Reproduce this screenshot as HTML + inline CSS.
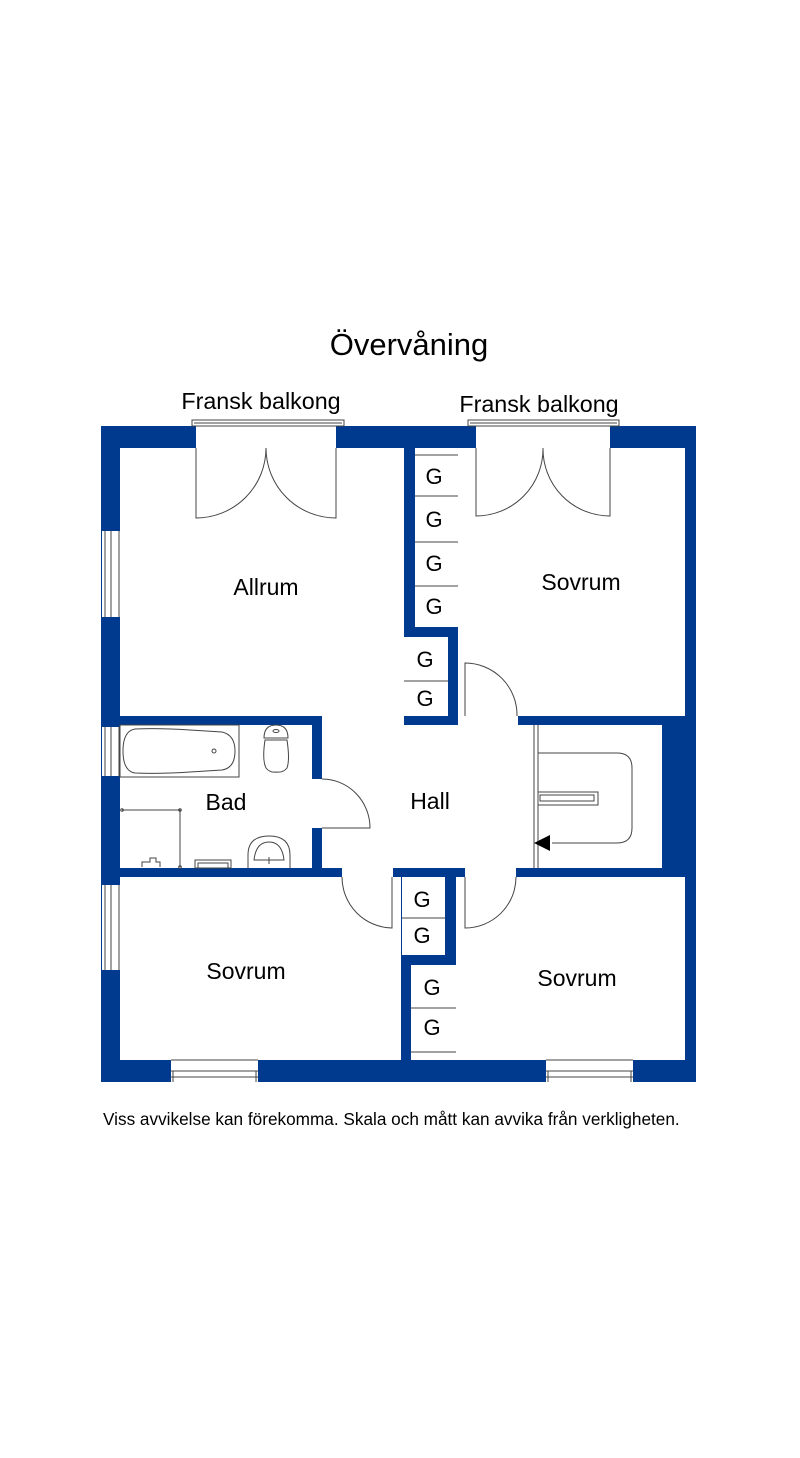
<!DOCTYPE html>
<html><head><meta charset="utf-8"><style>
html,body{margin:0;padding:0;background:#fff;}
svg{display:block;}
text{font-family:"Liberation Sans",Arial,sans-serif;fill:#000;}
</style></head><body>
<svg width="800" height="1458" viewBox="0 0 800 1458" xmlns="http://www.w3.org/2000/svg">
<text x="409" y="355" font-size="31" text-anchor="middle">Övervåning</text>
<text x="261" y="409" font-size="23.3" text-anchor="middle">Fransk balkong</text>
<text x="539" y="412" font-size="23.3" text-anchor="middle">Fransk balkong</text>

<rect x="101" y="426" width="595" height="656" fill="#003a8f"/>
<g fill="#fff">
<rect x="120" y="448" width="284" height="268"/>
<rect x="322" y="716" width="82" height="10"/>
<rect x="322" y="725" width="212" height="143"/>
<rect x="458" y="716" width="60" height="10"/>
<rect x="458" y="448" width="227" height="268"/>
<rect x="415" y="448" width="43" height="179"/>
<rect x="404" y="637" width="44" height="79"/>
<rect x="534" y="725" width="128" height="143"/>
<rect x="120" y="725" width="192" height="143"/>
<rect x="312" y="779" width="10" height="49"/>
<rect x="342" y="868" width="51" height="10"/>
<rect x="465" y="868" width="51" height="10"/>
<rect x="120" y="877" width="281" height="183"/>
<rect x="402" y="877" width="43" height="78"/>
<rect x="411" y="965" width="45" height="95"/>
<rect x="456" y="877" width="229" height="183"/>
<rect x="196" y="426" width="140" height="22"/>
<rect x="476" y="426" width="134" height="22"/>
<rect x="102" y="531" width="18" height="86"/>
<rect x="102" y="727" width="18" height="49"/>
<rect x="102" y="885" width="18" height="85"/>
<rect x="171" y="1060" width="87" height="22"/>
<rect x="546" y="1060" width="87" height="22"/>
</g>
<g fill="none" stroke="#444" stroke-width="1">
<rect x="192" y="420" width="152" height="6"/>
<line x1="194" y1="423" x2="342" y2="423"/>
<rect x="468" y="420" width="151" height="6"/>
<line x1="470" y1="423" x2="617" y2="423"/>
<g><line x1="105" y1="531" x2="105" y2="617"/><line x1="111" y1="531" x2="111" y2="617"/><line x1="119" y1="531" x2="119" y2="617"/></g>
<g><line x1="105" y1="727" x2="105" y2="776"/><line x1="111" y1="727" x2="111" y2="776"/><line x1="119" y1="727" x2="119" y2="776"/></g>
<g><line x1="105" y1="885" x2="105" y2="970"/><line x1="111" y1="885" x2="111" y2="970"/><line x1="119" y1="885" x2="119" y2="970"/></g>
<g><line x1="171" y1="1071" x2="258" y2="1071"/><line x1="171" y1="1077" x2="258" y2="1077"/><line x1="171" y1="1060" x2="258" y2="1060"/><line x1="173" y1="1071" x2="173" y2="1082"/><line x1="256" y1="1071" x2="256" y2="1082"/></g>
<g><line x1="546" y1="1071" x2="633" y2="1071"/><line x1="546" y1="1077" x2="633" y2="1077"/><line x1="546" y1="1060" x2="633" y2="1060"/><line x1="548" y1="1071" x2="548" y2="1082"/><line x1="631" y1="1071" x2="631" y2="1082"/></g>
<path d="M196 448 V518 A70 70 0 0 0 266 448 A70 70 0 0 0 336 518 V448"/>
<path d="M476 448 V516 A67 67 0 0 0 543 448 A67 67 0 0 0 610 516 V448"/>
<line x1="415" y1="455" x2="458" y2="455"/>
<line x1="415" y1="496" x2="458" y2="496"/>
<line x1="415" y1="542" x2="458" y2="542"/>
<line x1="415" y1="586" x2="458" y2="586"/>
<line x1="404" y1="681" x2="448" y2="681"/>
<path d="M465 716 V663 A52 52 0 0 1 517 716"/>
<path d="M322 779 A48 49 0 0 1 370 828 H322"/>
<path d="M342 877 A51 51 0 0 0 392 928 V877"/>
<path d="M465 877 V928 A51 51 0 0 0 516 877"/>
<line x1="402" y1="918" x2="445" y2="918"/>
<line x1="411" y1="1008" x2="456" y2="1008"/>
<line x1="411" y1="1052" x2="456" y2="1052"/>
<line x1="534" y1="725" x2="534" y2="868"/>
<line x1="538" y1="725" x2="538" y2="868"/>
<path d="M538 753 H617 Q632 753 632 768 V828 Q632 843 617 843 H552"/>
<rect x="538" y="792" width="60" height="13"/>
<rect x="540" y="795" width="54" height="6"/>
<rect x="120" y="725" width="119" height="52"/>
<path d="M135 729 Q160 728 190 730 L222 732 Q235 735 235 751 Q235 768 222 770 L190 772 Q160 774 135 773 Q123 771 123 751 Q123 731 135 729 Z"/>
<circle cx="214" cy="751" r="2"/>
<path d="M264 738 Q264 725 276 725 Q288 725 288 738 Z"/>
<path d="M265 740 Q262 760 266 768 Q270 773 276 772 Q283 773 287 768 Q290 760 287 740 Z"/>
<ellipse cx="276" cy="731" rx="3" ry="1.5"/>
<path d="M122 810 H180 V867"/>
<circle cx="122" cy="810" r="1.3"/><circle cx="180" cy="810" r="1.3"/><circle cx="180" cy="867" r="1.3"/>
<path d="M248 868 V855 Q248 836 269 836 Q290 836 290 855 V868"/>
<path d="M254 860 Q256 842 269 842 Q282 842 284 860 Z"/>
<line x1="269" y1="857" x2="269" y2="864"/>
<rect x="195" y="860" width="36" height="8"/>
<rect x="198" y="863" width="30" height="5"/>
<path d="M142 867 V862 H150 V858 H156 V862 H160 V867"/>
</g>
<polygon points="534,843 550,835 550,851" fill="#000"/>

<g font-size="23" text-anchor="middle">
<text x="266" y="595">Allrum</text>
<text x="581" y="590">Sovrum</text>
<text x="226" y="810">Bad</text>
<text x="430" y="809">Hall</text>
<text x="246" y="979">Sovrum</text>
<text x="577" y="986">Sovrum</text>
</g>
<g font-size="22" text-anchor="middle">
<text x="434" y="484">G</text>
<text x="434" y="527">G</text>
<text x="434" y="571">G</text>
<text x="434" y="614">G</text>
<text x="425" y="667">G</text>
<text x="425" y="706">G</text>
<text x="422" y="907">G</text>
<text x="422" y="943">G</text>
<text x="432" y="995">G</text>
<text x="432" y="1035">G</text>
</g>
<text x="103" y="1125" font-size="17.2">Viss avvikelse kan förekomma. Skala och mått kan avvika från verkligheten.</text>
</svg>
</body></html>
